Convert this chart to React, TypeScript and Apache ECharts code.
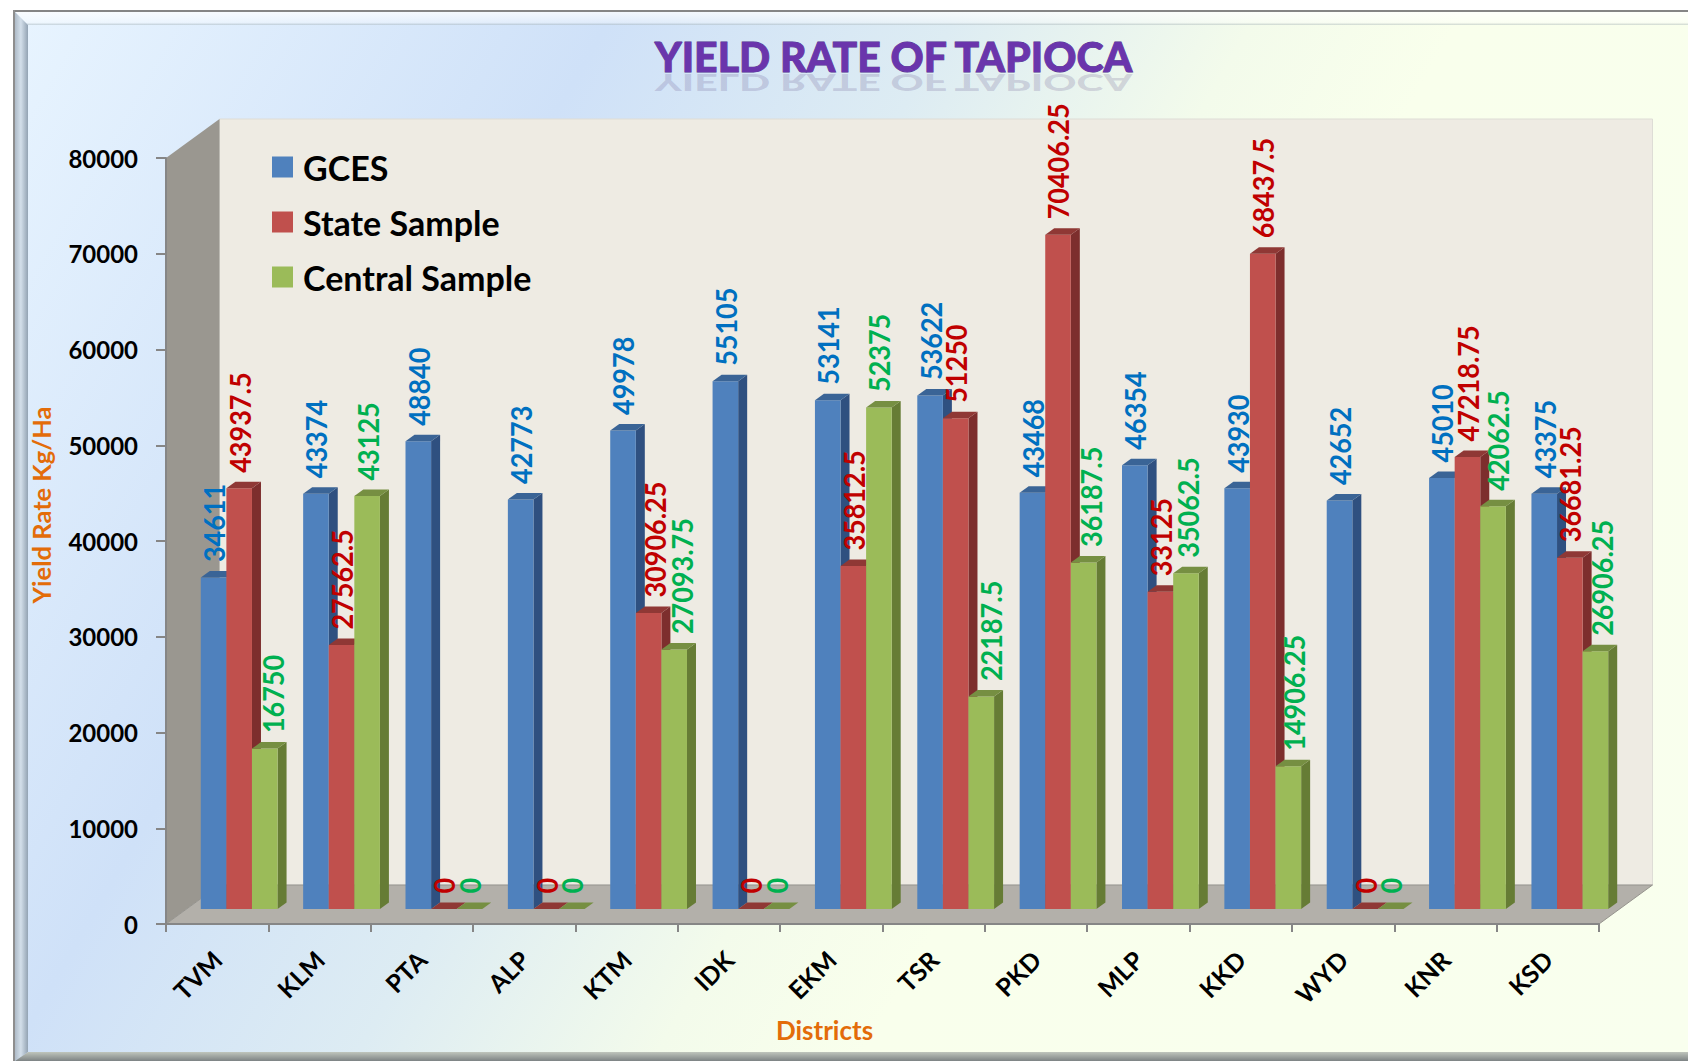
import React, { useEffect, useRef } from "react";
import * as echarts from "echarts";

const categories = ["TVM", "KLM", "PTA", "ALP", "KTM", "IDK", "EKM", "TSR", "PKD", "MLP", "KKD", "WYD", "KNR", "KSD"];
const gces = [34611, 43374, 48840, 42773, 49978, 55105, 53141, 53622, 43468, 46354, 43930, 42652, 45010, 43375];
const stateSample = [43937.5, 27562.5, 0, 0, 30906.25, 0, 35812.5, 51250, 70406.25, 33125, 68437.5, 0, 47218.75, 36681.25];
const centralSample = [16750, 43125, 0, 0, 27093.75, 0, 52375, 22187.5, 36187.5, 35062.5, 14906.25, 0, 42062.5, 26906.25];
const seriesNames = ["GCES", "State Sample", "Central Sample"];

const FONT = "Lato, Carlito, sans-serif";
const W = 1688, H = 1061;
const G = { l: 166, r: 1599, t: 158, b: 924 };
const DX = 53.5, DY = 39; // wall depth
const SX = 22, SY = 15; // bar plane offset from the axis plane
const BDX = 9, BDY = 6.5; // bar depth

const palette = [
  { front: "#4F81BD", side: "#2F5080", top: "#3A6496", label: "#0070C0" },
  { front: "#C0504D", side: "#7D2E2D", top: "#8F3835", label: "#C00000" },
  { front: "#9BBB59", side: "#667C35", top: "#768F42", label: "#00B050" },
];

// a few labels were moved sideways by hand in the original chart
const labelNudge: Record<number, Record<number, number>> = {
  0: {},
  1: { 4: 6 },
  2: { 0: 8, 4: 7, 7: 9, 8: 7, 9: 2, 10: 5, 12: 5, 13: 6 },
};

function makeSeries(index: number, values: number[]) {
  const c = palette[index];
  return {
    type: "custom",
    name: seriesNames[index],
    itemStyle: { color: c.front },
    z: 3,
    clip: false,
    encode: { x: 0, y: 1 },
    data: values.map((v, i) => [i, v]),
    renderItem: (_: any, api: any) => {
      const i = api.value(0);
      const v = api.value(1);
      const top = api.coord([i, v]);
      const base = api.coord([i, 0]);
      const band = api.size([1, 0])[0];
      const w = band * 0.25;
      const x = top[0] + SX + (index - 1.5) * w;
      const y0 = base[1] - SY;
      const y1 = top[1] - SY;
      const children: any[] = [];
      if (v > 0) {
        children.push({
          type: "polygon",
          shape: { points: [[x + w, y1], [x + w + BDX, y1 - BDY], [x + w + BDX, y0 - BDY], [x + w, y0]] },
          style: { fill: c.side },
        });
        children.push({
          type: "rect",
          shape: { x, y: y1, width: w, height: y0 - y1 },
          style: { fill: c.front },
        });
      }
      children.push({
        type: "polygon",
        shape: { points: [[x, y1], [x + w, y1], [x + w + BDX, y1 - BDY], [x + BDX, y1 - BDY]] },
        style: { fill: c.top },
      });
      children.push({
        type: "text",
        x: x + w / 2 + (labelNudge[index][i] || 0),
        y: y1 - 15.5,
        rotation: Math.PI / 2,
        scaleY: 1.08,
        z2: 100,
        style: {
          text: String(v),
          fill: c.label,
          font: `bold 27px ${FONT}`,
          align: "left",
          verticalAlign: "middle",
        },
      });
      return { type: "group", children };
    },
  };
}

const gradientBg = {
  type: "linear", global: true, x: 0, y: 0, x2: 1725, y2: 996,
  colorStops: [
    { offset: 0, color: "#E9F5FF" },
    { offset: 0.27, color: "#CFE1F8" },
    { offset: 0.42, color: "#DDECF3" },
    { offset: 0.55, color: "#F3FBEB" },
    { offset: 0.64, color: "#F9FFEC" },
    { offset: 1, color: "#F9FFEE" },
  ],
};

const backdrop: any[] = [
  { type: "rect", z: -10, shape: { x: 14, y: 11, width: W - 14, height: H - 11 }, style: { fill: gradientBg } },
  // bevels
  { type: "polygon", z: -9, shape: { points: [[15, 12], [W, 12], [W, 25], [28, 25]] },
    style: { fill: { type: "linear", x: 0, y: 0, x2: 0, y2: 1, colorStops: [
      { offset: 0, color: "rgba(255,255,255,0.75)" }, { offset: 0.8, color: "rgba(255,255,255,0.35)" }, { offset: 1, color: "rgba(150,165,170,0.45)" } ] } } },
  { type: "polygon", z: -9, shape: { points: [[15, 12], [28, 25], [28, 1052], [15, H]] },
    style: { fill: { type: "linear", x: 0, y: 0, x2: 1, y2: 0, colorStops: [
      { offset: 0, color: "#AEBBC8" }, { offset: 0.45, color: "#D3DFEA" }, { offset: 1, color: "#93A3B3" } ] } } },
  { type: "polygon", z: -9, shape: { points: [[28, 1052], [W, 1052], [W, H], [15, H]] },
    style: { fill: { type: "linear", x: 0, y: 0, x2: 0, y2: 1, colorStops: [
      { offset: 0, color: "#BFC5BC" }, { offset: 1, color: "#7D8384" } ] } } },
  { type: "rect", z: -8, shape: { x: 13, y: 10, width: W - 13, height: 2 }, style: { fill: "#858585" } },
  { type: "rect", z: -8, shape: { x: 13, y: 10, width: 2, height: H - 10 }, style: { fill: "#8E8E8E" } },
  // chart box
  { type: "rect", z: -5, shape: { x: G.l + DX, y: G.t - DY, width: G.r - G.l, height: G.b - G.t },
    style: { fill: "#EEEBE3", stroke: "#DEDDD6", lineWidth: 1 } },
  { type: "polygon", z: -5, shape: { points: [[G.l, G.t], [G.l + DX, G.t - DY], [G.l + DX, G.b - DY], [G.l, G.b]] },
    style: { fill: "#9A9790" } },
  { type: "polygon", z: -4, shape: { points: [[G.l, G.b], [G.l + DX, G.b - DY], [G.r + DX, G.b - DY], [G.r, G.b]] },
    style: { fill: "#B3B0AA", stroke: "#96948E", lineWidth: 1 } },
];

const texts: any[] = [
  { type: "text", z: 1, x: 893.5, y: 83, scaleY: -0.56, silent: true,
    style: { text: "YIELD RATE OF TAPIOCA", font: `900 41px ${FONT}`, align: "center", verticalAlign: "middle",
      fill: "#5A4682", opacity: 0.2 } },
  { type: "text", z: 2, x: 893.5, y: 56, style: { text: "YIELD RATE OF TAPIOCA", font: `900 41px ${FONT}`, align: "center", verticalAlign: "middle",
    fill: "#6A35AC", stroke: "#4E2E8C", lineWidth: 0.8 } },
  { type: "text", z: 2, x: 41, y: 505, rotation: Math.PI / 2, style: { text: "Yield Rate Kg/Ha", font: `bold 25.5px ${FONT}`, fill: "#E36C09", align: "center", verticalAlign: "middle" } },
  { type: "text", z: 2, x: 824.5, y: 1030, style: { text: "Districts", font: `bold 26px ${FONT}`, fill: "#E36C09", align: "center", verticalAlign: "middle" } },
];

export default function App() {
  const ref = useRef<HTMLDivElement>(null);
  useEffect(() => {
    document.body.style.margin = "0";
    const chart = echarts.init(ref.current!, undefined, { renderer: "svg" });
    chart.setOption({
      animation: false,
      backgroundColor: "#FFFFFF",
      grid: { left: G.l, right: W - G.r, top: G.t, bottom: H - G.b, containLabel: false },
      legend: {
        orient: "vertical",
        left: 267,
        top: 145,
        icon: "rect",
        itemWidth: 21,
        itemHeight: 21,
        itemGap: 21,
        data: seriesNames,
        textStyle: { fontFamily: FONT, fontWeight: "bold", fontSize: 34, color: "#000", padding: [0, 0, 0, 5] },
      },
      xAxis: {
        type: "category",
        data: categories,
        boundaryGap: true,
        axisLine: { lineStyle: { color: "#868686", width: 2 } },
        axisTick: { show: true, length: 8, lineStyle: { color: "#868686", width: 2 } },
        axisLabel: { rotate: 45, margin: 31, interval: 0, color: "#000", fontFamily: FONT, fontWeight: "bold", fontSize: 25 },
      },
      yAxis: {
        type: "value",
        min: 0,
        max: 80000,
        interval: 10000,
        splitLine: { show: false },
        axisLine: { show: true, lineStyle: { color: "#868686", width: 2 } },
        axisTick: { show: true, length: 10, lineStyle: { color: "#868686", width: 2 } },
        axisLabel: { margin: 28, color: "#000", fontFamily: FONT, fontWeight: "bold", fontSize: 24, formatter: (v: number) => String(v) },
      },
      graphic: { elements: [...backdrop, ...texts] },
      series: [makeSeries(0, gces), makeSeries(1, stateSample), makeSeries(2, centralSample)],
    });
    return () => chart.dispose();
  }, []);
  return <div ref={ref} style={{ position: "fixed", left: 0, top: 0, width: W, height: H }} />;
}
